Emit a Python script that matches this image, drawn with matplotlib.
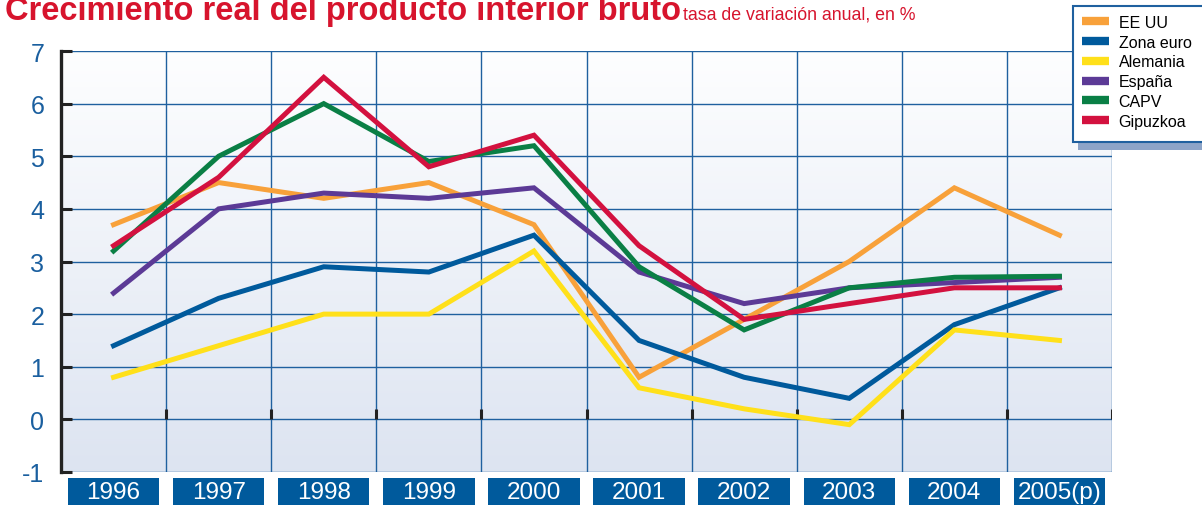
import matplotlib.pyplot as plt
import numpy as np
from matplotlib.lines import Line2D
from matplotlib.patches import Rectangle
from matplotlib.transforms import blended_transform_factory

plt.rcParams["font.family"] = ["Liberation Sans", "DejaVu Sans"]

# === Data ===
years = ["1996", "1997", "1998", "1999", "2000", "2001", "2002", "2003", "2004", "2005(p)"]
ee_uu = [3.7, 4.5, 4.2, 4.5, 3.7, 0.8, 1.9, 3.0, 4.4, 3.5]
zona_euro = [1.4, 2.3, 2.9, 2.8, 3.5, 1.5, 0.8, 0.4, 1.8, 2.5]
alemania = [0.8, 1.4, 2.0, 2.0, 3.2, 0.6, 0.2, -0.1, 1.7, 1.5]
espana = [2.4, 4.0, 4.3, 4.2, 4.4, 2.8, 2.2, 2.5, 2.6, 2.7]
capv = [3.2, 5.0, 6.0, 4.9, 5.2, 2.9, 1.7, 2.5, 2.7, 2.72]
gipuzkoa = [3.3, 4.6, 6.5, 4.8, 5.4, 3.3, 1.9, 2.2, 2.5, 2.5]

series = [
    ("EE UU", ee_uu, "#f8a13a"),
    ("Zona euro", zona_euro, "#005a9c"),
    ("Alemania", alemania, "#ffe01a"),
    ("España", espana, "#5c3a96"),
    ("CAPV", capv, "#0a7f45"),
    ("Gipuzkoa", gipuzkoa, "#d3113f"),
]

GRID = "#1f609f"
BOX = "#005a9c"
RED = "#d7142d"

fig = plt.figure(figsize=(12.02, 5.06), dpi=100)
ax = fig.add_axes([61 / 1202, 33 / 506, (1112 - 61) / 1202, (473 - 52) / 506])

# background gradient
grad = np.linspace(0, 1, 256).reshape(-1, 1)
top = np.array([0.995, 0.997, 1.0])
bot = np.array([0.866, 0.894, 0.945])
img = top + (bot - top) * grad[..., None]
ax.imshow(img, extent=[0, 10, -1, 7], aspect="auto", zorder=0, origin="upper")

ax.set_xlim(0, 10)
ax.set_ylim(-1, 7)

# grid
for y in range(-1, 8):
    ax.axhline(y, color=GRID, lw=1.0, zorder=1)
for x in range(1, 11):
    ax.axvline(x, color=GRID, lw=1.0, zorder=1)

# small black ticks along zero line
ax.vlines(np.arange(1, 11), 0, 0.2, color="#222222", lw=2.2, zorder=2)

x = np.arange(len(years)) + 0.5
for name, vals, col in series:
    ax.plot(x, vals, color=col, lw=3.6, solid_joinstyle="miter", zorder=3)

for s in ["top", "right", "bottom"]:
    ax.spines[s].set_visible(False)
ax.spines["left"].set_color("#222222")
ax.spines["left"].set_linewidth(2.4)
ax.spines["left"].set_zorder(4)
ax.set_yticks(range(-1, 8))
ax.set_yticklabels([str(v) for v in range(-1, 8)])
ax.tick_params(axis="y", direction="in", length=8, width=2.2, color="#222222",
               labelsize=18, labelcolor="#1a5f9f", pad=12)
ax.set_xticks([])

# year boxes below the axes
tr = blended_transform_factory(ax.transData, ax.transAxes)
for i, yr in enumerate(years):
    ax.add_patch(Rectangle((i + 0.065, -0.08), 0.87, 0.066, transform=tr,
                           facecolor=BOX, edgecolor="none", clip_on=False))
    ax.text(i + 0.5, -0.047, yr, transform=tr, ha="center", va="center",
            color="white", fontsize=17.5)

# title
fig.text(5 / 1202, 1 - 20 / 506, "Crecimiento real del producto interior bruto",
         color=RED, fontsize=23.5, fontweight="bold", va="baseline", ha="left")
fig.text(683 / 1202, 1 - 20 / 506, "tasa de variación anual, en %",
         color=RED, fontsize=12.8, va="baseline", ha="left")

# legend box (runs past the right edge) with shadow below
W, H = 1202, 506
fig.patches.append(Rectangle((1078 / W, 1 - 151 / H), 0.2, 140 / H,
                             transform=fig.transFigure, facecolor="#8da4c8",
                             edgecolor="none", zorder=4))
fig.patches.append(Rectangle((1073 / W, 1 - 143 / H), 0.2, 136 / H,
                             transform=fig.transFigure, facecolor="white",
                             edgecolor=GRID, lw=1.5, zorder=4.5))
handles = [Line2D([], [], color=c, lw=6, solid_capstyle="butt") for _, _, c in series]
leg = fig.legend(handles, [n for n, _, _ in series], loc="upper left",
                 bbox_to_anchor=(1073 / W, 1 - 7 / H), frameon=False,
                 fontsize=11.5, handlelength=1.7, handletextpad=0.6,
                 labelspacing=0.3, borderpad=0.55, borderaxespad=0)
leg.set_zorder(5)

fig.savefig("out.png", dpi=100)
